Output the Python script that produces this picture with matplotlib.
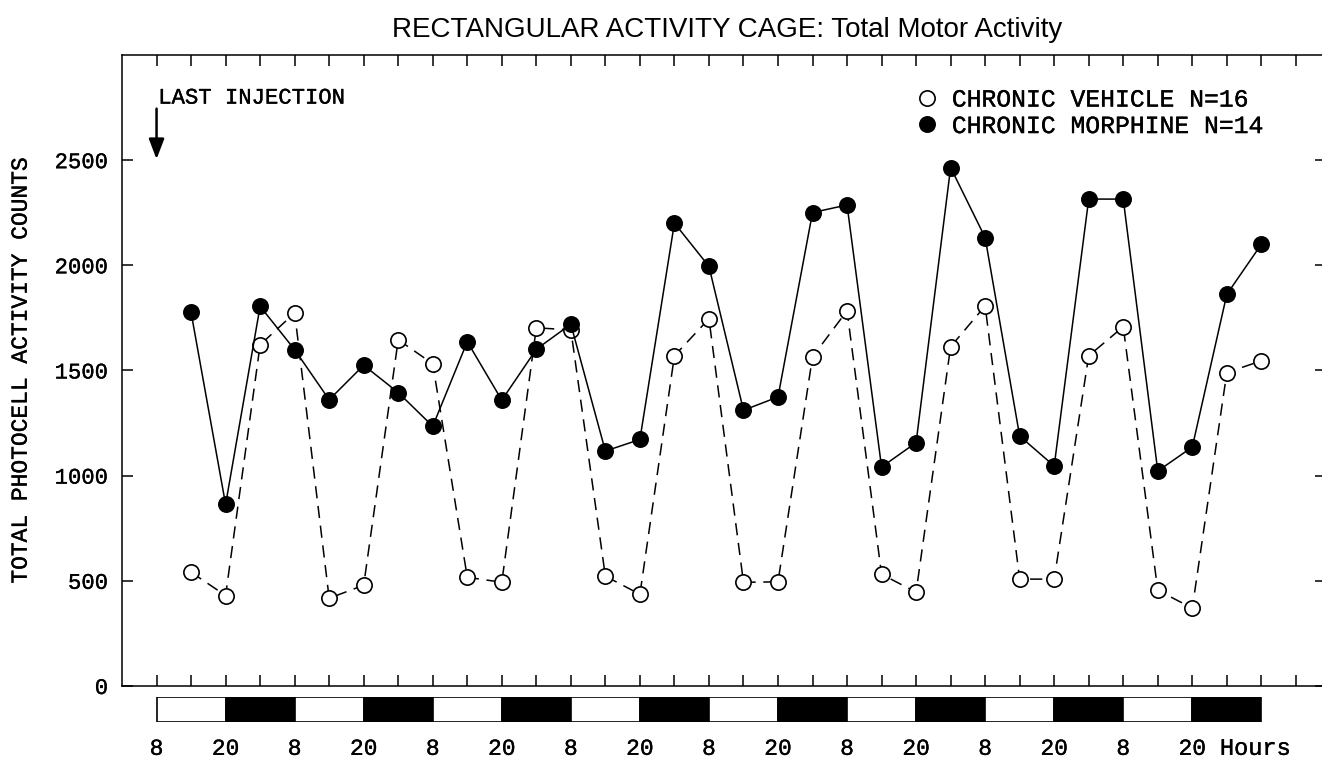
""" Recreates the rectangular activity cage chart of total motor activity for
    chronic vehicle and chronic morphine groups after the last injection.
"""

# ------------------------------------------------------------------------------
# Imports.
# ------------------------------------------------------------------------------

import numpy as np

from matplotlib import pyplot as plt
from matplotlib import patheffects as pe
from matplotlib.lines import Line2D

# ------------------------------------------------------------------------------
# Data.
# ------------------------------------------------------------------------------

# Hours since the last injection (08:00) at the centre of each 6 h bin.
bin_hours = np.arange(6, 193, 6)

vehicle_counts = [
    541, 430, 1622, 1774, 417, 479, 1646, 1532,
    517, 493, 1703, 1693, 522, 436, 1570, 1746,
    493, 495, 1565, 1784, 531, 446, 1613, 1807,
    508, 508, 1570, 1708, 455, 370, 1490, 1546,
]

morphine_counts = [
    1776, 863, 1805, 1599, 1361, 1525, 1395, 1235,
    1637, 1359, 1601, 1720, 1117, 1172, 2201, 1995,
    1311, 1374, 2251, 2287, 1041, 1157, 2465, 2132,
    1188, 1046, 2315, 2315, 1022, 1136, 1862, 2100,
]

# Light / dark cycle: 12 h segments starting with light at 08:00.
cycle_starts = list(range(0, 192, 12))
cycle_labels = ["8", "20"] * 8

y_ticks = [0, 500, 1000, 1500, 2000, 2500]

# ------------------------------------------------------------------------------
# Plot.
# ------------------------------------------------------------------------------

mono = "Liberation Mono"
heavy = [pe.withStroke(linewidth=0.25, foreground="black")]

fig = plt.figure(figsize=(13.22, 7.61), dpi=100)
ax = fig.add_axes([0.0923, 0.0986, 0.911, 0.8291])
ax_bar = fig.add_axes([0.0923, 0.0512, 0.911, 0.0329])

# Format the data lines.
ax.plot(bin_hours, vehicle_counts, color="black", lw=1.1, dashes=(8, 5),
        marker="o", ms=11, mfc="white", mec="black", mew=1.2, zorder=3)
ax.plot(bin_hours, morphine_counts, color="black", lw=1.1,
        marker="o", ms=11, mfc="black", mec="black", mew=1.2, zorder=4)

# Format the axes.
ax.set_xlim(-6, 203.3)
ax.set_ylim(0, 3000)
ax.set_xticks(np.arange(0, 199, 6))
ax.set_xticklabels([])
ax.set_yticks(y_ticks)
ax.set_yticklabels([str(v) for v in y_ticks], family=mono, fontsize=16,
                   path_effects=heavy)
ax.tick_params(direction="in", length=8, width=1.1, top=True, right=True,
               pad=10)
for spine in ax.spines.values():
    spine.set_linewidth(1.1)

ax.set_ylabel("TOTAL PHOTOCELL ACTIVITY COUNTS", family=mono, fontsize=16.5,
              path_effects=heavy)
ax.yaxis.set_label_coords(-0.075, 0.5)

fig.text(0.55, 0.96, "RECTANGULAR ACTIVITY CAGE: Total Motor Activity",
         family="Liberation Sans", fontsize=20, ha="center", va="center")

# Format the injection marker.
ax.annotate("", xy=(0, 2505), xytext=(0, 2745),
            arrowprops=dict(arrowstyle="-|>,head_length=0.68,head_width=0.26",
                            lw=1.8, color="black", shrinkA=0, shrinkB=0,
                            mutation_scale=18))
ax.text(0.3, 2795, "LAST INJECTION", family=mono, fontsize=16,
        ha="left", va="center", path_effects=heavy)

# Format the legend.
handles = [
    Line2D([], [], ls="none", marker="o", ms=11, mfc="white", mec="black",
           mew=1.2),
    Line2D([], [], ls="none", marker="o", ms=11, mfc="black", mec="black",
           mew=1.2),
]
leg = ax.legend(handles, ["CHRONIC VEHICLE N=16", "CHRONIC MORPHINE N=14"],
                loc="upper left", bbox_to_anchor=(0.65, 0.968), frameon=False,
                prop=dict(family=mono, size=17.8), handlelength=0.8,
                handletextpad=0.6, labelspacing=0.1, borderpad=0)
for txt in leg.get_texts():
    txt.set_path_effects(heavy)

# Format the light / dark bar.
colours = ["white", "black"] * 8
ax_bar.broken_barh([(s, 12) for s in cycle_starts], (0, 1),
                   facecolors=colours, edgecolor="black", linewidth=1.2)
ax_bar.set_xlim(ax.get_xlim())
ax_bar.set_ylim(0, 1)
ax_bar.axis("off")

for start, label in zip(cycle_starts, cycle_labels):
    ax_bar.text(start, -1.05, label, family=mono, fontsize=16.5,
                ha="center", va="center", path_effects=heavy,
                transform=ax_bar.get_xaxis_transform())
ax_bar.text(184.8, -1.05, "Hours", family=mono, fontsize=17,
            ha="left", va="center", path_effects=heavy,
            transform=ax_bar.get_xaxis_transform())

# Save the figure.
plt.savefig("out.png", dpi=100)
